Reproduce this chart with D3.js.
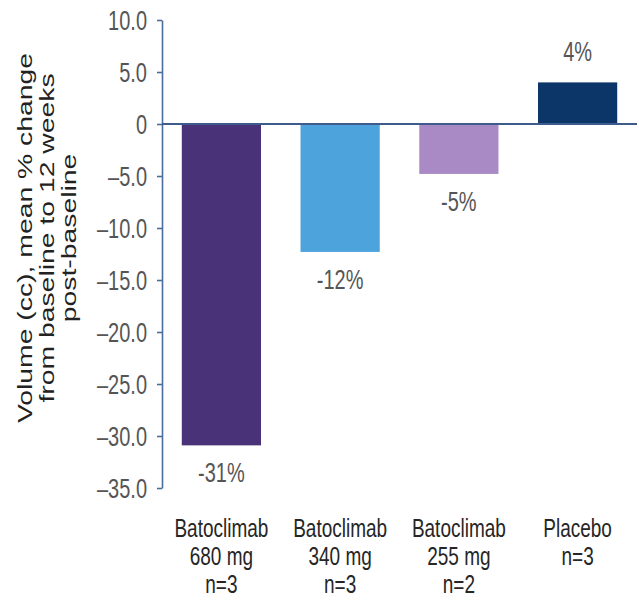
<!DOCTYPE html>
<html>
<head>
<meta charset="utf-8">
<script src="https://cdn.jsdelivr.net/npm/d3@7/dist/d3.min.js"></script>
<style>
  html, body { margin: 0; padding: 0; background: #fff; }
  svg { display: block; font-family: "Liberation Sans", Arial, Helvetica, sans-serif; }
</style>
</head>
<body>
<svg id="chart" width="639" height="609"></svg>
<script>
// Mean % change in volume from baseline to 12 weeks, by treatment group
const groups = ["Batoclimab 680 mg", "Batoclimab 340 mg", "Batoclimab 255 mg", "Placebo"];
const groupLines = [
  ["Batoclimab", "680 mg", "n=3"],
  ["Batoclimab", "340 mg", "n=3"],
  ["Batoclimab", "255 mg", "n=2"],
  ["Placebo", "n=3"]
];
const meanChange = [-30.9, -12.3, -4.8, 4.0];
const barColors = ["#4a3279", "#4da3dc", "#a98ac4", "#0c3568"];

const yTickValues = [10, 5, 0, -5, -10, -15, -20, -25, -30, -35];
const yTickLabels = ["10.0", "5.0", "0", "\u20135.0", "\u201310.0", "\u201315.0", "\u201320.0", "\u201325.0", "\u201330.0", "\u201335.0"];
const titleLines = ["Volume (cc), mean % change", "from baseline to 12 weeks", "post-baseline"];

const SY = 1.35; // vertical stretch applied to the text glyphs

const svg = d3.select("#chart");

const x = d3.scaleBand()
  .domain(groups)
  .range([162, 637])
  .paddingInner(0.333)
  .paddingOuter(0.1667);

const y = d3.scaleLinear()
  .domain([-35, 10])
  .range([488, 20]);

// Y axis
const yAxis = d3.axisLeft(y)
  .tickValues(yTickValues)
  .tickFormat((d, i) => yTickLabels[i])
  .tickSizeInner(5)
  .tickSizeOuter(0)
  .tickPadding(10);

const gy = svg.append("g")
  .attr("transform", "translate(162,0)")
  .call(yAxis);
gy.select(".domain").attr("stroke", "#4b6c9e").attr("stroke-width", 1.6);
gy.selectAll(".tick line").attr("stroke", "#4b6c9e").attr("stroke-width", 1.6);
gy.selectAll(".tick text")
  .attr("fill", "#555555")
  .attr("font-size", 20)
  .attr("dy", "0.36em")
  .attr("transform", `scale(1,${SY})`);

// Bars
svg.append("g")
  .selectAll("rect")
  .data(groups)
  .join("rect")
  .attr("x", d => x(d))
  .attr("width", x.bandwidth())
  .attr("y", (d, i) => y(Math.max(0, meanChange[i])))
  .attr("height", (d, i) => Math.abs(y(meanChange[i]) - y(0)))
  .attr("fill", (d, i) => barColors[i]);

// Zero baseline
svg.append("line")
  .attr("x1", x.range()[0])
  .attr("x2", x.range()[1])
  .attr("y1", y(0))
  .attr("y2", y(0))
  .attr("stroke", "#3f5b8b")
  .attr("stroke-width", 2.2);

// Value labels
svg.append("g")
  .selectAll("text")
  .data(groups)
  .join("text")
  .attr("transform", (d, i) => {
    const v = meanChange[i];
    const by = v < 0 ? y(v) + 37 : y(v) - 21;
    return `translate(${x(d) + x.bandwidth() / 2},${by}) scale(1,${SY})`;
  })
  .attr("text-anchor", "middle")
  .attr("font-size", 20)
  .attr("fill", "#555555")
  .text((d, i) => Math.round(meanChange[i]) + "%");

// Category labels
const lineBaselines = [536.5, 564.5, 592.5];
const cat = svg.append("g")
  .selectAll("g")
  .data(groups)
  .join("g");
cat.each(function (d, i) {
  d3.select(this).selectAll("text")
    .data(groupLines[i])
    .join("text")
    .attr("transform", (t, j) => `translate(${x(d) + x.bandwidth() / 2},${lineBaselines[j]}) scale(1,${SY})`)
    .attr("text-anchor", "middle")
    .attr("font-size", 19)
    .attr("fill", "#262626")
    .text(t => t);
});

// Y axis title
const titleBaselines = [32, 54, 76];
svg.append("g")
  .selectAll("text")
  .data(titleLines)
  .join("text")
  .attr("transform", (t, j) => `translate(${titleBaselines[j]},238) rotate(-90) scale(${SY},1)`)
  .attr("text-anchor", "middle")
  .attr("font-size", 21)
  .attr("fill", "#222222")
  .text(t => t);
</script>
</body>
</html>
